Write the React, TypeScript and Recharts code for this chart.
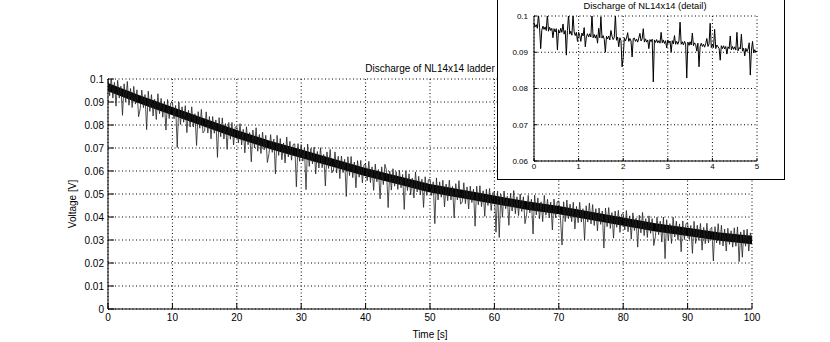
import { ComposedChart, LineChart, Line, Area, XAxis, YAxis, CartesianGrid } from 'recharts'

const FONT = "'Liberation Sans', Arial, Helvetica, sans-serif"

// ladder discharge, in mV, one sample every 0.25 s (0..100 s)
const MAIN_DT = 0.25
const mainMv = [
  100, 92.7, 101, 91.7, 98.5, 88.2, 99.4, 91.7, 96.9, 84.2, 97.9, 90.1, 98.9, 88.6, 95.9, 87.6, 96.8, 89.1, 95.3, 83.6,
  87, 95.2, 87.5, 93.2, 78, 94.7, 85.9, 93.2, 83.9, 91.2, 82.4, 93.6, 84.9, 91.6, 83.4, 90.1, 77.8, 91.1, 82.8, 89.6,
  90, 82.7, 88.5, 70.2, 90, 80.2, 87.9, 81.2, 88.4, 76.7, 86.4, 79.1, 87.9, 79.1, 84.9, 71.1, 85.8, 78.6, 86.8, 76.6,
  77.5, 85.7, 76.5, 83.7, 74, 83.7, 76.4, 82.2, 65.9, 83.2, 74.9, 83.1, 73.9, 80.6, 69.4, 81.1, 73.8, 81.1, 71.3, 79.1,
  79.5, 72.3, 80.6, 71.3, 78.1, 67.9, 79.2, 71.4, 76.7, 64, 77.8, 70, 78.8, 68.6, 75.9, 67.6, 76.9, 69.2, 75.5, 63.7,
  67.5, 75.8, 68.1, 73.9, 58.7, 75.5, 66.8, 74.1, 64.9, 72.2, 63.5, 74.8, 66.1, 72.9, 64.7, 71.5, 71.8, 53.1, 71.9, 64.2,
  71.5, 64.3, 70.1, 51.9, 71.7, 62, 69.8, 63.1, 70.4, 58.7, 68.5, 61.3, 70.1, 61.4, 67.2, 53.5, 68.3, 61.1, 69.4, 59.2,
  60, 68.3, 59.1, 66.4, 56.7, 66.5, 59.3, 65.1, 48.9, 66.2, 58, 66.3, 57.1, 63.9, 52.7, 64.5, 57.3, 64.6, 54.9, 62.7,
  63, 55.8, 64.2, 55, 61.8, 51.6, 63, 55.3, 60.6, 47.9, 61.8, 54.1, 62.9, 60.2, 44.1, 59.9, 51.7, 61, 53.4, 59.7,
  52, 60.3, 52.7, 58.5, 43.3, 60.1, 51.5, 58.8, 49.6, 56.9, 48.3, 59.6, 50.9, 57.7, 49.6, 56.4, 44.2, 57.5, 49.4, 56.2,
  56.5, 49.4, 55.3, 37.1, 57, 47.4, 55.3, 48.6, 56, 44.4, 54.3, 47.1, 56, 47.4, 53.3, 39.6, 54.5, 47.4, 55.8, 45.6,
  46.5, 54.9, 45.8, 53.1, 43.5, 53.4, 46.3, 52.1, 36, 53.4, 45.3, 53.6, 44.5, 51.4, 40.3, 52.1, 45, 52.4, 42.8, 50.6,
  51, 33.4, 51.3, 31.1, 50, 39.9, 51.3, 43.6, 49, 36.4, 50.3, 42.6, 51.5, 41.4, 48.8, 40.6, 50, 42.4, 48.8, 37.1,
  41, 49.4, 41.8, 47.7, 32.6, 49.5, 40.9, 48.3, 39.2, 46.6, 38, 49.4, 40.8, 47.7, 39.6, 46.5, 34.4, 47.8, 39.7, 46.6,
  47, 39.9, 27.8, 46.6, 38, 47.4, 39.3, 45.6, 38, 46.4, 34.8, 44.6, 37.5, 46.4, 37.8, 43.6, 30, 44.9, 37.8, 46.1,
  37, 45.4, 36.3, 43.6, 34, 43.9, 36.8, 42.6, 26.5, 43.9, 35.8, 44.1, 35, 41.9, 30.8, 42.6, 35.5, 42.9, 33.3, 41.1,
  41.5, 34.4, 42.8, 33.6, 40.5, 30.4, 41.8, 34.1, 39.5, 26.9, 40.8, 33.1, 42, 31.9, 39.3, 31.1, 40.5, 32.9, 39.3, 27.6,
  31.5, 39.9, 32.3, 38.2, 29.1, 40, 21.9, 38.8, 29.7, 37.1, 28.5, 39.9, 31.3, 38.2, 30.1, 37, 24.9, 38.3, 30.2, 37.1,
  37.5, 30.4, 36.3, 24.2, 38.1, 28.5, 36.4, 29.8, 37.2, 25.6, 35.5, 28.4, 37.3, 28.7, 34.6, 35.5, 20.9, 35.8, 28.7, 37.1,
  28, 36.4, 27.4, 34.8, 25.2, 35.1, 28.1, 34, 26.9, 35.3, 27.3, 35.7, 20.6, 33.5, 22.5, 34.4, 27.3, 34.7, 25.2, 33.1,
  30,
]

// dense core of the trace (where the samples pile up into a solid band), every 5 s, mV
const bandTimes = [0, 5, 10, 15, 20, 25, 30, 35, 40, 45, 50, 55, 60, 65, 70, 75, 80, 85, 90, 95, 100]
const bandLowMv = [94.7, 89.2, 84.2, 79.2, 74.2, 69.7, 65.7, 61.7, 57.7, 54.2, 50.7, 48.2, 45.7, 43.2, 41.2, 38.7, 36.2, 33.7, 31.7, 29.7, 28.2]
const bandHighMv = [98.3, 92.8, 87.8, 82.8, 77.8, 73.3, 69.3, 65.3, 61.3, 57.8, 54.3, 51.8, 49.3, 46.8, 44.8, 42.3, 39.8, 37.3, 35.3, 33.3, 31.8]

// first 5 s in detail, in mV, one sample every 0.025 s
const DETAIL_DT = 0.025
const detailMv = [
  98.0, 97.0, 97.6, 96.6, 100.5, 96.8, 91.0, 96.1, 97.2, 96.3,
  97.0, 96.0, 100.5, 95.8, 96.9, 96.0, 96.6, 94.0, 96.5, 95.6,
  96.5, 90.6, 96.2, 95.3, 96.6, 95.5, 97.8, 95.0, 96.0, 89.2,
  96.0, 100.5, 95.0, 95.8, 94.7, 100.5, 95.6, 94.6, 95.5, 93.0,
  95.5, 94.6, 93.0, 95.3, 94.5, 96.8, 91.5, 94.3, 95.1, 94.2,
  95.1, 94.2, 100.5, 94.0, 94.9, 93.9, 94.8, 92.5, 96.6, 94.0,
  99.8, 93.9, 94.6, 93.6, 90.0, 94.4, 93.7, 94.5, 93.4, 96.0,
  94.4, 93.5, 94.1, 100.5, 93.3, 94.2, 91.5, 94.0, 93.2, 86.0,
  88.5, 94.0, 93.1, 93.9, 95.4, 93.0, 93.8, 93.1, 88.7, 93.8,
  93.9, 93.0, 93.6, 92.8, 93.9, 95.2, 93.1, 93.7, 96.5, 92.8,
  93.7, 92.8, 93.4, 91.0, 93.5, 92.9, 93.6, 81.8, 93.4, 92.7,
  93.5, 92.6, 93.2, 92.5, 95.5, 92.6, 93.4, 92.4, 93.2, 91.2,
  93.4, 92.5, 93.1, 90.0, 93.2, 92.3, 94.6, 92.2, 93.0, 92.2,
  93.1, 98.3, 92.2, 92.9, 92.0, 93.0, 92.3, 82.9, 92.8, 91.9,
  92.9, 92.0, 95.3, 91.8, 92.6, 92.1, 90.3, 92.5, 86.0, 91.6,
  92.5, 91.6, 92.2, 91.4, 92.4, 93.8, 91.6, 92.3, 98.0, 91.3,
  92.2, 91.3, 96.3, 91.0, 92.0, 91.5, 91.1, 87.8, 91.8, 91.0,
  91.8, 90.9, 91.6, 89.5, 91.5, 91.0, 94.5, 90.7, 91.6, 90.8,
  91.5, 90.6, 95.5, 90.4, 91.3, 90.9, 95.0, 90.3, 91.1, 89.0,
  91.1, 90.2, 90.9, 92.6, 83.7, 90.6, 93.0, 89.8, 90.7, 90.0,
  90.4,
]

const mainTimeTicks = [0, 10, 20, 30, 40, 50, 60, 70, 80, 90, 100]
const mainVoltTicks = [0, 0.01, 0.02, 0.03, 0.04, 0.05, 0.06, 0.07, 0.08, 0.09, 0.1]
const detailTimeTicks = [0, 1, 2, 3, 4, 5]
const detailVoltTicks = [0.06, 0.07, 0.08, 0.09, 0.1]

const mainData = mainMv.map((mv, i) => ({ t: i * MAIN_DT, v: mv / 1000 }))
const bandData = bandTimes.map((t, i) => ({ t, band: [bandLowMv[i] / 1000, bandHighMv[i] / 1000] }))
const detailData = detailMv.map((mv, i) => ({ t: i * DETAIL_DT, v: mv / 1000 }))

const fmtVolt = (v: number) => String(Number(v.toFixed(2)))
const blank = () => ''

const axisStroke = { stroke: '#000' }

export default function App() {
  return (
    <div style={{ position: 'absolute', left: 0, top: 0, width: 830, height: 342, background: '#fff', overflow: 'hidden' }}>
      <div style={{ position: 'absolute', left: 0, top: 0 }}>
        <ComposedChart width={830} height={342} margin={{ top: 79, right: 78, bottom: 3, left: 68 }}>
          <CartesianGrid stroke="#000" strokeDasharray="1 2.5" />
          <XAxis
            dataKey="t"
            type="number"
            domain={[0, 100]}
            ticks={mainTimeTicks}
            interval={0}
            height={30}
            tickSize={-6}
            tickMargin={11}
            axisLine={axisStroke}
            tickLine={axisStroke}
            tick={{ fontSize: 10, fill: '#000', fontFamily: FONT }}
          />
          <XAxis xAxisId="top" orientation="top" type="number" domain={[0, 100]} ticks={mainTimeTicks} interval={0}
            height={0} tickSize={-6} tickFormatter={blank} axisLine={axisStroke} tickLine={axisStroke} />
          <YAxis
            type="number"
            domain={[0, 0.1]}
            allowDataOverflow
            ticks={mainVoltTicks}
            interval={0}
            width={40}
            tickSize={-6}
            tickMargin={10}
            tickFormatter={fmtVolt}
            axisLine={axisStroke}
            tickLine={axisStroke}
            tick={{ fontSize: 10, fill: '#000', fontFamily: FONT }}
          />
          <YAxis yAxisId="right" orientation="right" type="number" domain={[0, 0.1]} ticks={mainVoltTicks} interval={0}
            width={0} tickSize={-6} tickFormatter={blank} axisLine={axisStroke} tickLine={axisStroke} />
          <Area data={bandData} dataKey="band" type="linear" stroke="none" fill="#000" fillOpacity={1} isAnimationActive={false} />
          <Line data={mainData} dataKey="v" type="linear" stroke="#222" strokeWidth={0.8} dot={false} isAnimationActive={false} />
        </ComposedChart>
      </div>

      <svg width={830} height={342} style={{ position: 'absolute', left: 0, top: 0 }} fontFamily={FONT} fill="#000">
        <text x={430} y={72} fontSize={10} textAnchor="middle">Discharge of NL14x14 ladder</text>
        <text x={430} y={337.5} fontSize={10} textAnchor="middle">Time [s]</text>
        <text x={72.5} y={204} fontSize={10} textAnchor="middle" dominantBaseline="central"
          transform="rotate(-90 72.5 204)">Voltage [V]</text>
      </svg>

      <div style={{ position: 'absolute', left: 497, top: -1, width: 286, height: 179, border: '1px solid #000', background: '#fff' }}>
        <svg width={286} height={179} style={{ position: 'absolute', left: 0, top: 0 }} fontFamily={FONT}>
          <text x={147} y={9} fontSize={9.3} textAnchor="middle" fill="#000">Discharge of NL14x14 (detail)</text>
        </svg>
        <div style={{ position: 'absolute', left: 0, top: 0 }}>
          <LineChart width={286} height={179} data={detailData} margin={{ top: 16, right: 27, bottom: 4, left: 6 }}>
            <CartesianGrid stroke="#000" strokeDasharray="1 2.5" />
            <XAxis
              dataKey="t"
              type="number"
              domain={[0, 5]}
              ticks={detailTimeTicks}
              interval={0}
              height={14}
              tickSize={-3}
              tickMargin={5.5}
              axisLine={axisStroke}
              tickLine={axisStroke}
              tick={{ fontSize: 8, fill: '#000', fontFamily: FONT }}
            />
            <XAxis xAxisId="top" orientation="top" type="number" domain={[0, 5]} ticks={detailTimeTicks} interval={0}
              height={0} tickSize={-3} tickFormatter={blank} axisLine={axisStroke} tickLine={axisStroke} />
            <YAxis
              type="number"
              domain={[0.06, 0.1]}
              allowDataOverflow
              ticks={detailVoltTicks}
              interval={0}
              width={30}
              tickSize={-3}
              tickMargin={9}
              tickFormatter={fmtVolt}
              axisLine={axisStroke}
              tickLine={axisStroke}
              tick={{ fontSize: 8, fill: '#000', fontFamily: FONT }}
            />
            <YAxis yAxisId="right" orientation="right" type="number" domain={[0.06, 0.1]} ticks={detailVoltTicks} interval={0}
              width={0} tickSize={-3} tickFormatter={blank} axisLine={axisStroke} tickLine={axisStroke} />
            <Line dataKey="v" type="linear" stroke="#000" strokeWidth={1} dot={false} isAnimationActive={false} />
          </LineChart>
        </div>
      </div>
    </div>
  )
}
